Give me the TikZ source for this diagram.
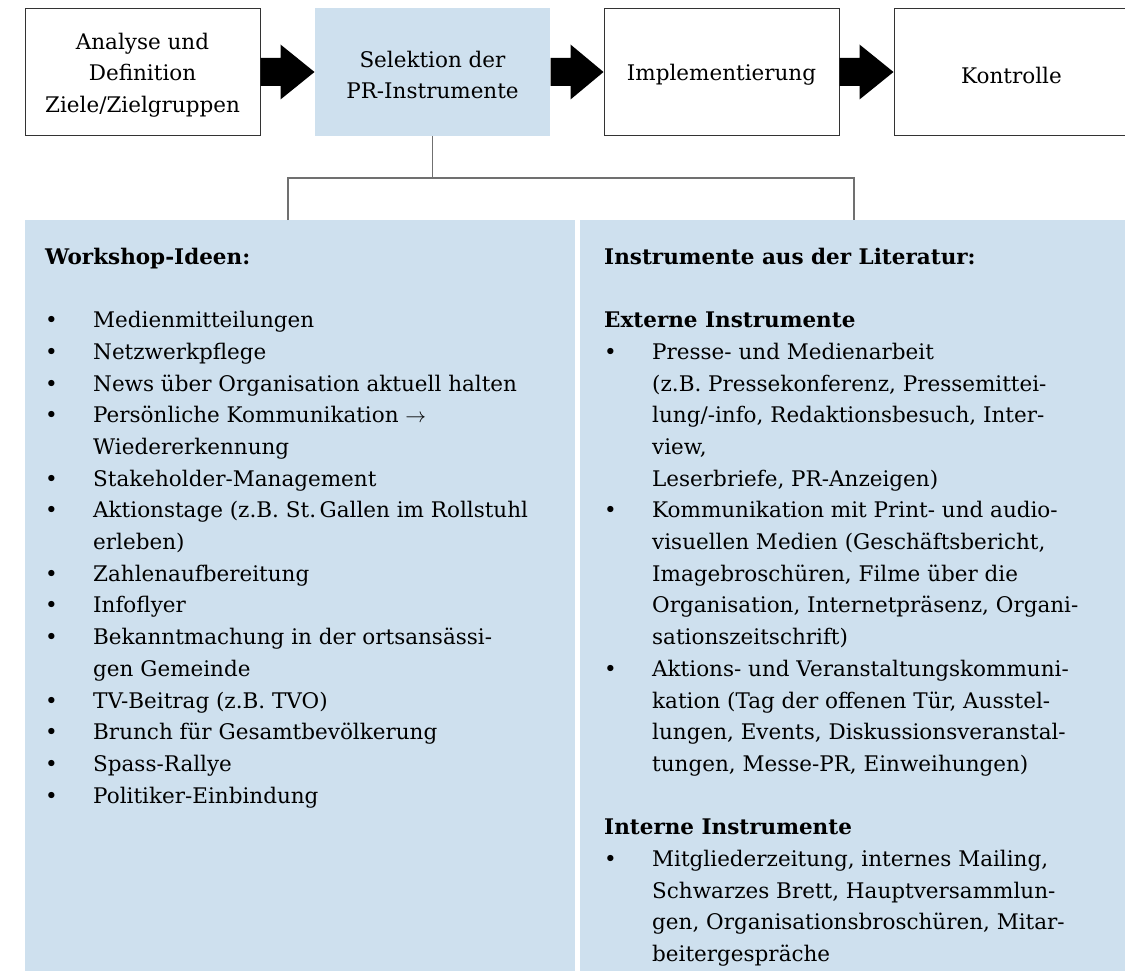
\documentclass[tikz,border=0pt]{standalone}
\usepackage{fontspec}
\setmainfont{DejaVu Serif}
\usetikzlibrary{calc}
\definecolor{panelblue}{RGB}{206,224,238}
\definecolor{boxline}{RGB}{51,51,51}
\definecolor{treeline}{RGB}{112,112,112}
\newcommand{\bitem}{\makebox[48pt][l]{\textbullet}}
\newcommand{\bcont}{\hspace*{48pt}}
\newcommand{\flowarrow}[2]{%
  \fill[black] ($(#1.east)+(0,-14)$) -- ($(#1.east)+(20,-14)$) -- ($(#1.east)+(20,-27.5)$)
    -- (#2.west) -- ($(#1.east)+(20,27.5)$) -- ($(#1.east)+(20,14)$) -- ($(#1.east)+(0,14)$) -- cycle;}
\begin{document}
\begin{tikzpicture}[x=1pt,y=-1pt,
  every node/.style={font=\fontsize{21.5}{31.7}\selectfont},
  stagebox/.style={draw=boxline, line width=1pt, minimum width=235pt, minimum height=127.5pt,
    inner sep=0pt, fill=white},
  stageblue/.style={stagebox, draw=none, fill=panelblue},
  stagetext/.style={label={[align=center, inner sep=0pt, yshift=-3pt]center:#1}},
  panel/.style={fill=panelblue, inner sep=0pt, anchor=north west},
  coltext/.style={anchor=north west, inner sep=0pt, align=left},
  tree/.style={draw=treeline, line width=1.5pt}]
\useasboundingbox (0,0) rectangle (1125,971);
% stages
\node[stagebox, stagetext={Analyse und\\Definition\\Ziele/Zielgruppen}]  (b1) at (142.5,72) {};
\node[stageblue, stagetext={Selektion der\\PR-Instrumente}] (b2) at (432.5,72) {};
\node[stagebox, stagetext={Implementierung}]  (b3) at (721.5,72) {};
\node[stagebox, stagetext={Kontrolle}]  (b4) at (1011.5,72) {};
\flowarrow{b1}{b2}
\flowarrow{b2}{b3}
\flowarrow{b3}{b4}
% panels
\node[panel, minimum width=550pt, minimum height=753pt] (pl) at (25,220) {};
\node[panel, minimum width=547pt, minimum height=753pt] (pr) at (580,220) {};
% tree
\coordinate (tl) at (288,178);
\coordinate (tr) at (854,178);
\draw[tree] (b2.south) -- (b2.south |- tl);
\draw[tree] (pl.north -| tl) -- (tl) -- (tr) -- (pr.north -| tr);
% texts
\node[coltext] (lt) at (45,240) {\rule{0pt}{24pt}\textbf{Workshop-Ideen:}\\
\mbox{}\\
\bitem Medienmitteilungen\\
\bitem Netzwerkpflege\\
\bitem News über Organisation aktuell halten\\
\bitem Persönliche Kommunikation $\rightarrow$\\
\bcont Wiedererkennung\\
\bitem Stakeholder-Management\\
\bitem Aktionstage (z.B. St.\,Gallen im Rollstuhl\\
\bcont erleben)\\
\bitem Zahlenaufbereitung\\
\bitem Infoflyer\\
\bitem Bekanntmachung in der ortsansässi-\\
\bcont gen Gemeinde\\
\bitem TV-Beitrag (z.B. TVO)\\
\bitem Brunch für Gesamtbevölkerung\\
\bitem Spass-Rallye\\
\bitem Politiker-Einbindung};
\node[coltext] (rt) at (604,240) {\rule{0pt}{24pt}\textbf{Instrumente aus der Literatur:}\\
\mbox{}\\
\textbf{Externe Instrumente}\\
\bitem Presse- und Medienarbeit\\
\bcont (z.B. Pressekonferenz, Pressemittei-\\
\bcont lung/-info, Redaktionsbesuch, Inter-\\
\bcont view,\\
\bcont Leserbriefe, PR-Anzeigen)\\
\bitem Kommunikation mit Print- und audio-\\
\bcont visuellen Medien (Geschäftsbericht,\\
\bcont Imagebroschüren, Filme über die\\
\bcont Organisation, Internetpräsenz, Organi-\\
\bcont sationszeitschrift)\\
\bitem Aktions- und Veranstaltungskommuni-\\
\bcont kation (Tag der offenen Tür, Ausstel-\\
\bcont lungen, Events, Diskussionsveranstal-\\
\bcont tungen, Messe-PR, Einweihungen)\\
\mbox{}\\
\textbf{Interne Instrumente}\\
\bitem Mitgliederzeitung, internes Mailing,\\
\bcont Schwarzes Brett, Hauptversammlun-\\
\bcont gen, Organisationsbroschüren, Mitar-\\
\bcont beitergespräche};
\end{tikzpicture}
\end{document}
